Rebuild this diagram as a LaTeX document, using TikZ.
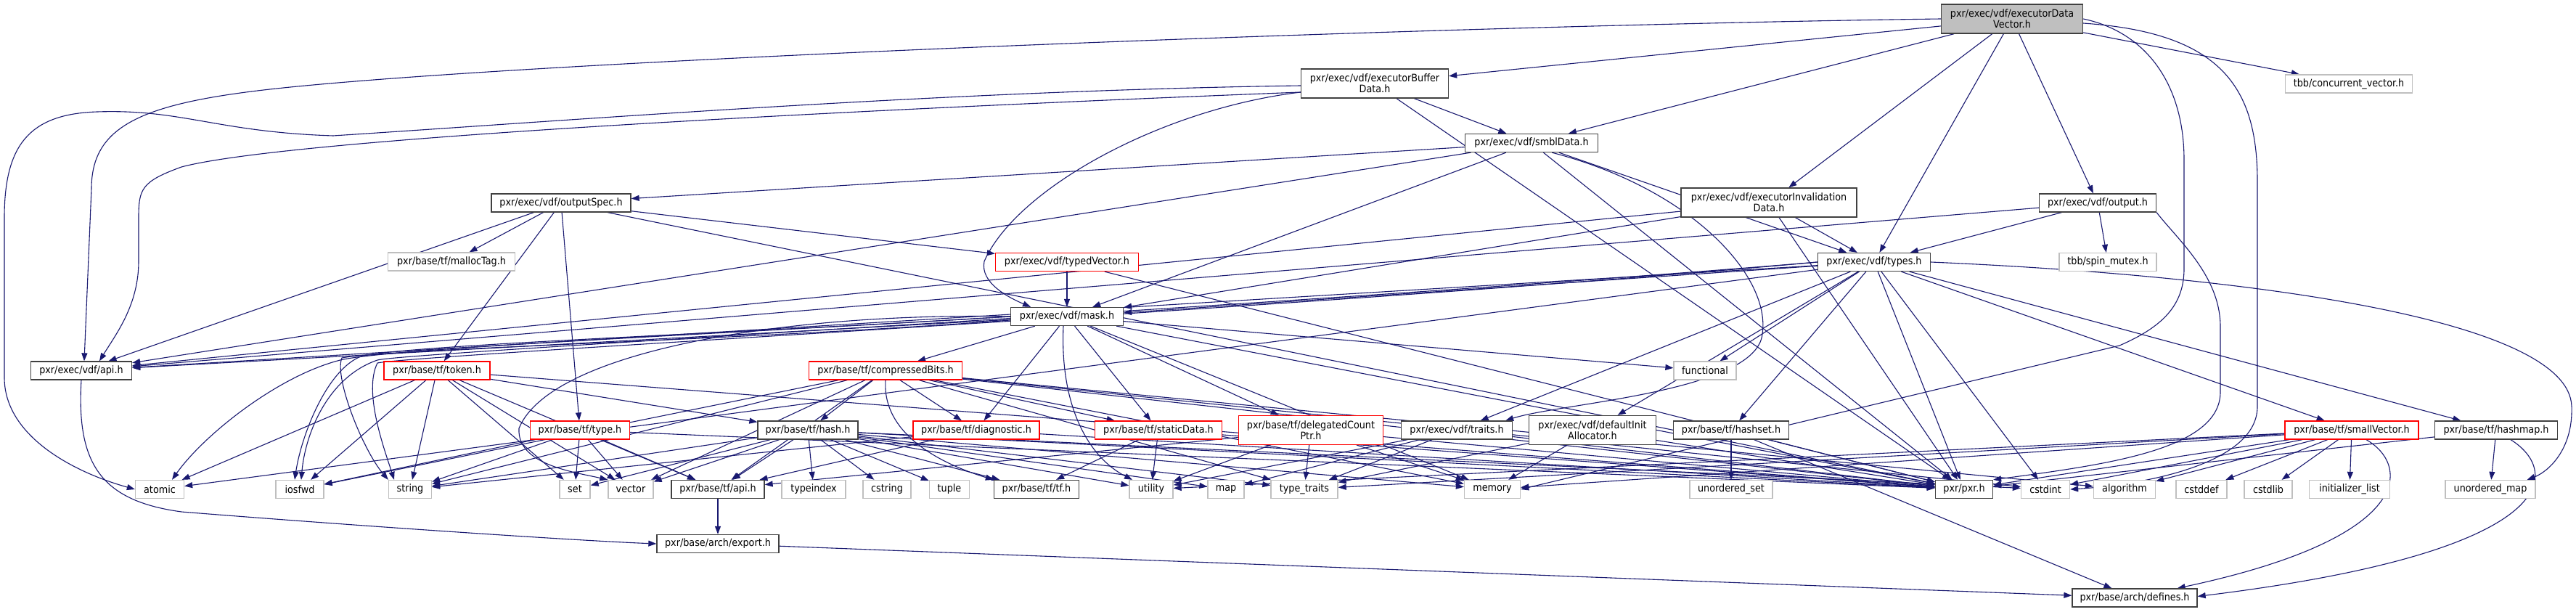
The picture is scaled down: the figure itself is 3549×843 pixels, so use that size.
\documentclass[tikz,border=0pt]{standalone}
\usepackage{fontspec}
\setmainfont{DejaVu Sans}[FakeStretch=0.9]
\usepackage{tikz}
\usetikzlibrary{arrows.meta,backgrounds}
\definecolor{edgeblue}{HTML}{191970}
\definecolor{boxgray}{HTML}{BFBFBF}
\definecolor{boxdark}{HTML}{404040}
\definecolor{boxred}{HTML}{FF0000}

\begin{document}
\begin{tikzpicture}[x=1pt,y=-1pt,
  hdr/.style={rectangle,draw=boxdark,fill=white,line width=1.3pt,minimum height=25pt,
    inner xsep=2pt,inner ysep=1pt,align=center,font=\fontsize{14.2}{15}\selectfont},
  trunc/.style={hdr,draw=boxred},
  sys/.style={hdr,draw=boxgray},
  cur/.style={hdr,fill=boxgray},
  dep/.style={draw=edgeblue,line width=1.1pt,-{Triangle[length=11pt,width=8pt]}}]
\useasboundingbox (0,0) rectangle (3549,843);
% Top of the graph
\node[cur,minimum width=195pt,minimum height=40pt] (edv) at (2772,26) {pxr/exec/vdf/executorData\\Vector.h};
\node[hdr,minimum width=203pt,minimum height=40pt] (ebd) at (1894,115) {pxr/exec/vdf/executorBuffer\\Data.h};
\node[sys,minimum width=175pt] (tbbcv) at (3236,115.5) {tbb/concurrent\_vector.h};
\node[hdr,minimum width=183pt] (smbl) at (2110,197) {pxr/exec/vdf/smblData.h};
\node[hdr,minimum width=192pt] (ospec) at (773,279.5) {pxr/exec/vdf/outputSpec.h};
\node[hdr,minimum width=242pt,minimum height=40pt] (eid) at (2437,279) {pxr/exec/vdf/executorInvalidation\\Data.h};
\node[hdr,minimum width=161pt] (output) at (2890,279.5) {pxr/exec/vdf/output.h};
\node[sys,minimum width=175pt] (malloc) at (622,360.5) {pxr/base/tf/mallocTag.h};
\node[trunc,minimum width=197pt] (tvec) at (1470,361) {pxr/exec/vdf/typedVector.h};
\node[hdr,minimum width=155pt] (types) at (2582,361) {pxr/exec/vdf/types.h};
\node[sys,minimum width=134pt] (spin) at (2904,361) {tbb/spin\_mutex.h};
\node[hdr,minimum width=155pt] (mask) at (1470,436) {pxr/exec/vdf/mask.h};
% Middle rows
\node[hdr,minimum width=139pt] (vapi) at (112,510.5) {pxr/exec/vdf/api.h};
\node[trunc,minimum width=146pt] (token) at (602,510.5) {pxr/base/tf/token.h};
\node[trunc,minimum width=211pt] (cbits) at (1220,510.5) {pxr/base/tf/compressedBits.h};
\node[sys,minimum width=86pt] (functional) at (2349,510.5) {functional};
\node[trunc,minimum width=137pt] (type) at (799,592.5) {pxr/base/tf/type.h};
\node[hdr,minimum width=138pt] (hash) at (1113,592.5) {pxr/base/tf/hash.h};
\node[trunc,minimum width=174pt] (diag) at (1345,592.5) {pxr/base/tf/diagnostic.h};
\node[trunc,minimum width=175pt] (sdata) at (1596,592.5) {pxr/base/tf/staticData.h};
\node[trunc,minimum width=199pt,minimum height=40pt] (dcptr) at (1806,592.5) {pxr/base/tf/delegatedCount\\Ptr.h};
\node[hdr,minimum width=153pt] (traits) at (2007,592.5) {pxr/exec/vdf/traits.h};
\node[hdr,minimum width=175pt,minimum height=40pt] (dialloc) at (2194,592.5) {pxr/exec/vdf/defaultInit\\Allocator.h};
\node[hdr,minimum width=159pt] (hashset) at (2385,592.5) {pxr/base/tf/hashset.h};
\node[trunc,minimum width=184pt] (svec) at (3240,592.5) {pxr/base/tf/smallVector.h};
\node[hdr,minimum width=169pt] (hashmap) at (3439,592.5) {pxr/base/tf/hashmap.h};
% Bottom row
\node[sys,minimum width=67pt] (atomic) at (220,674) {atomic};
\node[sys,minimum width=66pt] (iosfwd) at (413,674) {iosfwd};
\node[sys,minimum width=59pt] (string) at (565,674) {string};
\node[sys,minimum width=42pt] (set) at (792,674) {set};
\node[sys,minimum width=62pt] (vector) at (869,674) {vector};
\node[hdr,minimum width=128pt] (tfapi) at (989,674) {pxr/base/tf/api.h};
\node[sys,minimum width=88pt] (typeindex) at (1121,674) {typeindex};
\node[sys,minimum width=66pt] (cstring) at (1222,674) {cstring};
\node[sys,minimum width=55pt] (tuple) at (1308,674) {tuple};
\node[hdr,minimum width=117pt] (tfh) at (1428,674) {pxr/base/tf/tf.h};
\node[sys,minimum width=60pt] (utility) at (1586,674) {utility};
\node[sys,minimum width=50pt] (map) at (1689,674) {map};
\node[sys,minimum width=92pt] (typetraits) at (1797,674) {type\_traits};
\node[sys,minimum width=77pt] (memory) at (2056,674) {memory};
\node[sys,minimum width=114pt] (uset) at (2385,674) {unordered\_set};
\node[hdr,minimum width=79pt] (pxr) at (2706,674) {pxr/pxr.h};
\node[sys,minimum width=67pt] (cstdint) at (2818,674) {cstdint};
\node[sys,minimum width=85pt] (algorithm) at (2927,674) {algorithm};
\node[sys,minimum width=70pt] (cstddef) at (3033,674) {cstddef};
\node[sys,minimum width=66pt] (cstdlib) at (3125,674) {cstdlib};
\node[sys,minimum width=111pt] (initlist) at (3237,674) {initializer\_list};
\node[sys,minimum width=124pt] (umap) at (3431,674) {unordered\_map};
\node[hdr,minimum width=168pt] (export) at (989,749) {pxr/base/arch/export.h};
\node[hdr,minimum width=172pt] (defines) at (2941,823.5) {pxr/base/arch/defines.h};

\begin{scope}[on background layer]
\fill[white] (0,0) rectangle (3549,843);
% executorDataVector.h
\foreach \d in {ebd,smbl,eid,types,output,tbbcv} \draw[dep] (edv) -- (\d);
\draw[dep] (edv.west) .. controls (2000,35) and (800,80) .. (400,120)
  .. controls (200,140) and (126,170) .. (126,260) -- ([xshift=4pt]vapi.north);
\draw[dep] (edv.east) .. controls (2960,45) and (3009,120) .. (3009,220) -- (3009,370)
  .. controls (3009,420) and (2980,450) .. (2920,476) -- (memory.east);
\draw[dep] ([yshift=-6pt]edv.east) .. controls (3060,45) and (3110,120) .. (3110,250) -- (3110,560)
  .. controls (3110,640) and (2950,668) .. (cstdint.east);
% executorBufferData.h
\foreach \d in {smbl,pxr} \draw[dep] (ebd) -- (\d);
\draw[dep] ([yshift=-3pt]ebd.west) .. controls (1300,125) and (800,165) .. (459,187)
  .. controls (300,182) and (250,150) .. (134,154) .. controls (40,157) and (6,200) .. (6,300)
  -- (6,520) .. controls (6,600) and (100,650) .. (atomic.west);
\draw[dep] ([yshift=-12pt]ebd.west) .. controls (1200,150) and (400,190) .. (250,230)
  .. controls (195,250) and (191,260) .. (191,300) -- (191,360)
  .. controls (191,420) and (160,460) .. ([xshift=25pt]vapi.north);
\draw[dep] ([yshift=-12pt]ebd.west) .. controls (1600,150) and (1400,260) .. (1356,360)
  .. controls (1350,390) and (1390,410) .. ([xshift=-50pt]mask.north);
% smblData.h
\foreach \d in {vapi,ospec,mask,types,pxr} \draw[dep] (smbl) -- (\d);
\draw[dep] ([xshift=-64pt]smbl.south east) .. controls (2330,260) and (2440,380) .. (2428,460)
  .. controls (2420,540) and (2150,555) .. ([xshift=-10pt]traits.north east);
% outputSpec.h
\foreach \d in {vapi,malloc,token,type,tvec,pxr} \draw[dep] (ospec) -- (\d);
% executorInvalidationData.h and output.h
\foreach \d in {vapi,mask,types,pxr} \draw[dep] (eid) -- (\d);
\foreach \d in {vapi,types,spin} \draw[dep] (output) -- (\d);
\draw[dep] (output.south east) .. controls (3000,330) and (3059,380) .. (3059,450) -- (3059,540)
  .. controls (3059,620) and (2900,640) .. (pxr.north east);
% typedVector.h
\foreach \d in {mask,pxr} \draw[dep] (tvec) -- (\d);
% types.h
\foreach \d in {vapi,mask,functional,hashset,traits,dialloc,svec,hashmap,pxr,atomic,cstdint}
  \draw[dep] (types) -- (\d);
\draw[dep] (types.east) .. controls (3100,380) and (3540,440) .. (3543,560)
  .. controls (3545,620) and (3510,650) .. ([xshift=-12pt]umap.north east);
\draw[dep] (types.west) .. controls (1800,420) and (560,485) .. (520,496)
  .. controls (450,520) and (420,600) .. ([xshift=2pt]iosfwd.north);
\draw[dep] (types.west) .. controls (1800,425) and (580,488) .. (520,500)
  .. controls (500,540) and (530,620) .. ([xshift=-22pt]string.north);
% mask.h
\foreach \d in {vapi,cbits,diag,sdata,dcptr,functional,pxr,memory}
  \draw[dep] (mask) -- (\d);
\draw[dep] ([xshift=-5pt]mask.south) .. controls (1460,560) and (1500,630) .. ([xshift=-26pt]utility.north);
\draw[dep] (mask.west) .. controls (1100,430) and (760,480) .. (715,590)
  .. controls (712,640) and (790,650) .. (vector.north west);
\draw[dep] (mask.west) .. controls (1000,460) and (520,480) .. (465,497)
  .. controls (380,520) and (280,600) .. ([xshift=17pt]atomic.north);
\draw[dep] (mask.west) .. controls (1000,460) and (560,475) .. (497,491)
  .. controls (450,510) and (415,600) .. ([xshift=-7pt]iosfwd.north);
\draw[dep] ([yshift=-5pt]mask.west) .. controls (1000,470) and (540,480) .. (471,493)
  .. controls (460,520) and (500,620) .. (string.north west);
% api headers
\draw[dep] (vapi.south) .. controls (105,640) and (140,690) .. (250,705)
  .. controls (500,725) and (800,745) .. (export.west);
\draw[dep] (tfapi) -- (export);
\draw[dep] (export) -- (defines);
% tf headers
\foreach \d in {atomic,iosfwd,string,set,vector,tfapi,hash,pxr} \draw[dep] (token) -- (\d);
\foreach \d in {hash,diag,sdata,tfapi,vector,iosfwd,string,typetraits,algorithm,cstdint,memory,pxr}
  \draw[dep] (cbits) -- (\d);
\draw[dep] (cbits.south) .. controls (1215,600) and (1300,640) .. (tfh.north west);
\foreach \d in {string,iosfwd,set,vector,tfapi,pxr} \draw[dep] (type) -- (\d);
\foreach \d in {tfapi,typeindex,cstring,tuple,tfh,utility,map,typetraits,memory,string,vector,set,pxr,cstdint}
  \draw[dep] (hash) -- (\d);
\foreach \d in {tfapi,pxr,string} \draw[dep] (diag) -- (\d);
\foreach \d in {tfh,pxr,utility} \draw[dep] (sdata) -- (\d);
\foreach \d in {typetraits,memory,utility,tfapi,pxr} \draw[dep] (dcptr) -- (\d);
\foreach \d in {typetraits,map,utility,pxr} \draw[dep] (traits) -- (\d);
\foreach \d in {memory,typetraits,pxr} \draw[dep] (dialloc) -- (\d);
\foreach \d in {uset,pxr,defines} \draw[dep] (hashset) -- (\d);
\foreach \d in {algorithm,cstddef,cstdlib,initlist,memory,typetraits,cstdint,utility,pxr}
  \draw[dep] (svec) -- (\d);
\draw[dep] ([xshift=20pt]svec.south) .. controls (3320,640) and (3330,740) .. ([xshift=-28pt]defines.north east);
\foreach \d in {umap,pxr} \draw[dep] (hashmap) -- (\d);
\draw[dep] ([xshift=20pt]hashmap.south) .. controls (3530,650) and (3530,760) .. ([yshift=2pt]defines.east);
\end{scope}
\end{tikzpicture}
\end{document}
